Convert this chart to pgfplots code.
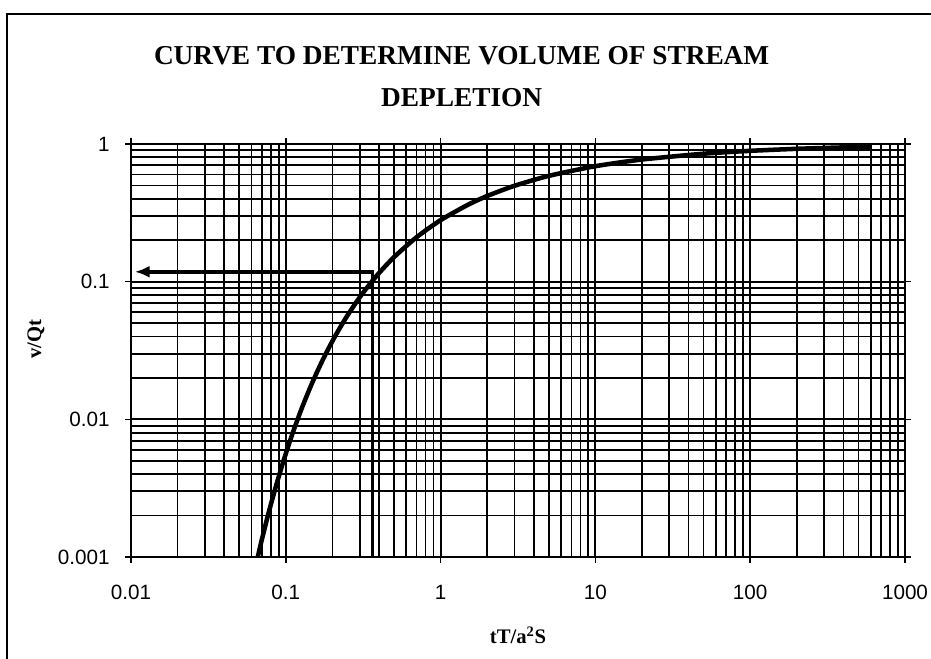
\documentclass[border=0pt]{standalone}
\usepackage{fontspec}
\setmainfont{Liberation Serif}
\newfontfamily\arial{Liberation Sans}
\usepackage{pgfplots}
\pgfplotsset{compat=1.18}
\usetikzlibrary{arrows.meta}
\begin{document}
\begin{tikzpicture}
\useasboundingbox (-98.25pt,-75.75pt) rectangle (600pt,417.75pt);
\draw[line width=1.5pt] (-93pt,-80pt) -- (-93pt,407.25pt) -- (610pt,407.25pt);
\node[font=\fontsize{20.5}{31.5}\selectfont\bfseries, align=center] at (248pt,360pt) {CURVE TO DETERMINE VOLUME OF STREAM\\DEPLETION};
\begin{axis}[
  scale only axis, width=580.5pt, height=309.75pt,
  xmode=log, ymode=log,
  xmin=0.01, xmax=1000, ymin=0.001, ymax=1,
  xtick={0.01,0.1,1,10,100,1000},
  xticklabels={0.01,0.1,1,10,100,1000},
  ytick={0.001,0.01,0.1,1},
  yticklabels={0.001,0.01,0.1,1},
  grid=both,
  major grid style={black, line width=1.4pt},
  minor grid style={black, line width=1.3pt},
  tick align=outside, major tick length=4.5pt, minor tick length=0pt,
  tick style={black, line width=1.2pt},
  axis line style={black, line width=1.4pt},
  ticklabel style={font=\arial\fontsize{15.5}{18}\selectfont},
  xticklabel style={yshift=-13pt},
  yticklabel style={xshift=-8pt},
  xlabel={tT/a\textsuperscript{2}S},
  ylabel={v/Qt},
  label style={font=\fontsize{15.5}{18}\selectfont\bfseries},
  xlabel style={at={(axis description cs:0.5,0)}, anchor=center, yshift=-58.5pt},
  ylabel style={at={(axis description cs:-0.1227,0.528)}, anchor=center, rotate=0},
]
\addplot[black, line width=3.4pt, smooth, tension=0.4] coordinates {
(0.0625,0.00077) (0.06925,0.00127) (0.07716,0.00206) (0.08651,0.00329)
(0.09766,0.00518) (0.11111,0.00803) (0.12755,0.01224) (0.14793,0.01837)
(0.17361,0.02717) (0.20661,0.03957) (0.25,0.05679) (0.30864,0.08033)
(0.39063,0.11202) (0.5,0.15068) (0.7,0.2105) (1,0.27986) (1.5,0.36167)
(2,0.41928) (3,0.49725) (5,0.5870) (10,0.6902) (20,0.7716) (50,0.8502)
(100,0.8921) (200,0.9227) (400,0.9448) (600,0.9548)
};
\addplot[black, line width=2.6pt, line join=miter, -{Latex[length=11pt,width=9pt]}] coordinates {
(0.364,0.001) (0.364,0.118) (0.0106,0.118)
};
\end{axis}
\end{tikzpicture}
\end{document}
